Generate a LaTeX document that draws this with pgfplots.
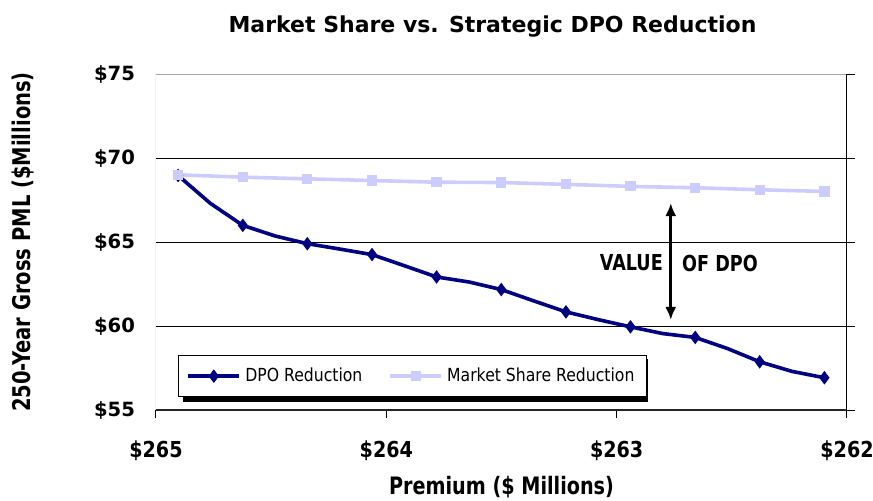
\documentclass[border=0pt]{standalone}
\usepackage{pgfplots}
\pgfplotsset{compat=1.18}
\usepackage{fontspec}
\setmainfont{DejaVu Sans}
\newfontfamily\dvc[FakeStretch=0.8]{DejaVu Sans}
\newfontfamily\dvl[FakeStretch=0.87]{DejaVu Sans}
\usetikzlibrary{arrows.meta,calc}
\definecolor{navyc}{HTML}{000080}
\definecolor{lav}{HTML}{CCCCFF}
\begin{document}
\begin{tikzpicture}
\begin{axis}[name=ax,
 scale only axis, width=345.5pt, height=168pt,
 x dir=reverse, xmin=262, xmax=265, ymin=55, ymax=75,
 xtick={262,263,264,265}, xticklabels={\$262,\$263,\$264,\$265},
 ytick={55,60,65,70,75}, yticklabels={\$55,\$60,\$65,\$70,\$75},
 tick align=outside, xtick pos=bottom, ytick pos=right, yticklabel pos=left,
 major tick length=4pt,
 axis line style={draw=none},
 ymajorgrids, grid style={black, line width=0.4pt},
 tick style={black, line width=0.5pt},
 xticklabel style={font=\dvl\bfseries\fontsize{11}{12}\selectfont, yshift=-8pt},
 yticklabel style={font=\bfseries\fontsize{9.8}{12}\selectfont, anchor=east, xshift=-3pt},
 legend style={at={(rel axis cs:0.0318,0.0387)}, anchor=south west, draw=black, fill=white, line width=0.5pt,
   font=\dvl\fontsize{9}{11}\selectfont, legend columns=2,
   /tikz/every even column/.append style={column sep=11pt}, inner xsep=4pt, inner ysep=4pt},
 legend image code/.code={\draw[mark repeat=2, mark phase=2] plot coordinates {(0cm,0cm) (0.45cm,0cm) (0.9cm,0cm)};},
]
\fill[black] (rel axis cs:0.0391,0.0238) rectangle (rel axis cs:0.712,0.1518);
\draw[gray!70, line width=0.5pt] (rel axis cs:0,0) -- (rel axis cs:0,1);
\draw[gray!70, line width=0.5pt] (rel axis cs:0,1) -- (rel axis cs:1,1);
\draw[black!85, line width=0.6pt] (rel axis cs:0,0) -- (rel axis cs:1,0);
\draw[black, line width=0.6pt] (rel axis cs:1,0) -- (rel axis cs:1,1);
\addplot[navyc, line width=1.8pt, mark=diamond*, mark size=3pt, mark repeat=2, mark options={fill=navyc, draw=navyc, line width=0.5pt}] coordinates {
(264.904,68.96) (264.764,67.30) (264.623,65.99) (264.483,65.36) (264.343,64.90)
(264.202,64.58) (264.062,64.25) (263.922,63.59) (263.782,62.92) (263.641,62.62)
(263.501,62.17) (263.361,61.50) (263.220,60.84) (263.080,60.38) (262.940,59.95)
(262.800,59.55) (262.659,59.32) (262.519,58.66) (262.379,57.87) (262.239,57.30)
(262.098,56.92)};
\addlegendentry{DPO Reduction}
\addplot[lav, line width=1.8pt, mark=square*, mark size=2.3pt, mark options={fill=lav, draw=lav, line width=0.5pt}] coordinates {
(264.904,69.00) (264.623,68.86) (264.343,68.76) (264.062,68.66) (263.782,68.56)
(263.501,68.54) (263.220,68.43) (262.940,68.31) (262.659,68.23) (262.379,68.11)
(262.098,68.01)};
\addlegendentry{Market Share Reduction}
\draw[{Latex[length=6.5pt,width=5.5pt]}-{Latex[length=6.5pt,width=5.5pt]}, line width=1.3pt] (axis cs:262.765,67.32) -- (axis cs:262.765,60.36);
\node[anchor=east, font=\dvc\bfseries\fontsize{11}{12}\selectfont, inner sep=0pt, xshift=-3.8pt] at (axis cs:262.765,63.75) {VALUE};
\node[anchor=west, font=\dvc\bfseries\fontsize{11}{12}\selectfont, inner sep=0pt, xshift=5.5pt] at (axis cs:262.765,63.75) {OF DPO};
\end{axis}
\node[font=\bfseries\fontsize{11}{13}\selectfont] at ($(ax.north west)!0.5!(ax.north east)+(-4.5pt,23.5pt)$) {Market Share vs. Strategic DPO Reduction};
\node[font=\dvc\bfseries\fontsize{12}{14}\selectfont] at ($(ax.south west)!0.5!(ax.south east)+(0,-38.5pt)$) {Premium (\$ Millions)};
\node[rotate=90, font=\dvc\bfseries\fontsize{12.2}{14}\selectfont] at ($(ax.south west)!0.5!(ax.north west)+(-66.5pt,0)$) {250-Year Gross PML (\$Millions)};
\pgfresetboundingbox
\path[use as bounding box] ($(ax.south west)+(-78pt,-45pt)$) rectangle ($(ax.north east)+(13pt,37pt)$);
\end{tikzpicture}
\end{document}
